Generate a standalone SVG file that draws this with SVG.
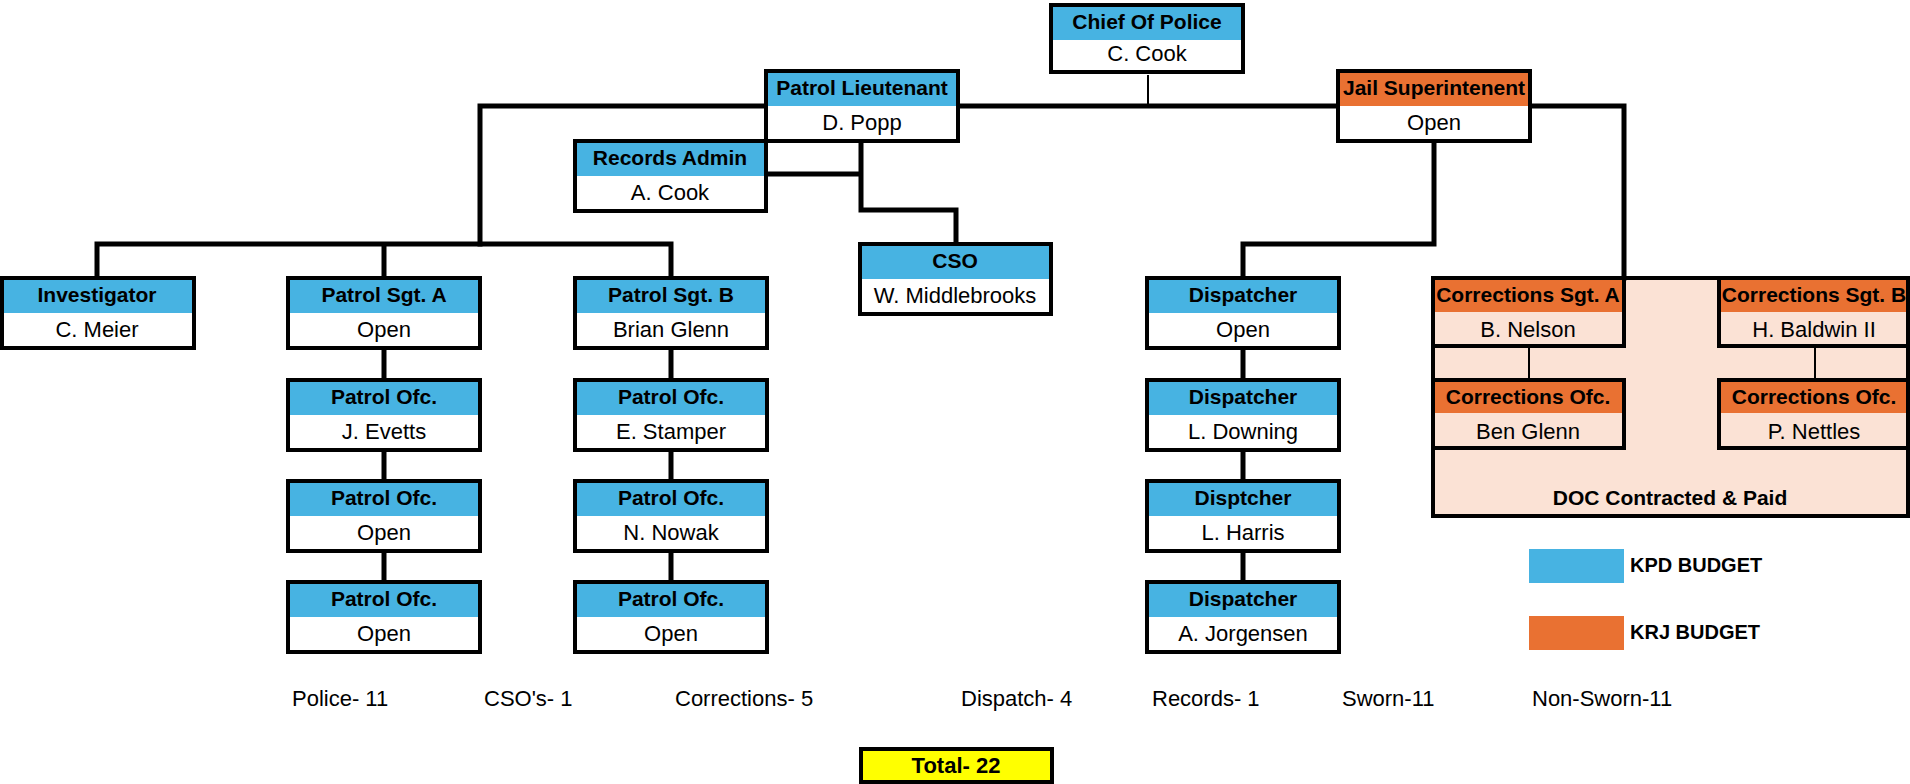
<svg xmlns="http://www.w3.org/2000/svg" width="1910" height="784" viewBox="0 0 1910 784">
<style>
.hb{fill:#47B3E2}
.ho{fill:#E97132}
.nw{fill:#FFFFFF}
.np{fill:#FBE2D5}
.fr{fill:none;stroke:#000;stroke-width:4}
.t{font-family:"Liberation Sans",Arial,sans-serif;text-anchor:middle;fill:#000}
.h{font-size:21px;font-weight:bold}
.n{font-size:22px}
.c{fill:none;stroke:#000;stroke-width:5;stroke-linejoin:miter;stroke-linecap:square}
.thin{fill:none;stroke:#000;stroke-width:2}
.lbl{font-family:"Liberation Sans",Arial,sans-serif;font-size:22px;fill:#000}
.leg{font-family:"Liberation Sans",Arial,sans-serif;font-size:20px;font-weight:bold;fill:#000}
</style>
<rect width="1910" height="784" fill="#FFFFFF"/>

<g id="doc-area">
<rect x="1433" y="278" width="475" height="238" fill="#FBE2D5" stroke="#000" stroke-width="4"/>
<text class="t h" x="1670" y="505">DOC Contracted &amp; Paid</text>
</g>

<g id="connectors">
<path class="c" d="M480 244 V106 H1624 V278"/>
<path class="thin" d="M1148 72 V106"/>
<path class="c" d="M97 278 V244 H671 V278 M384 244 V278"/>
<path class="c" d="M766 174 H861 M861 142 V210 H956 V244"/>
<path class="c" d="M1434 142 V244 H1243 V278"/>
<path class="c" d="M384 348 V380 M384 450 V481 M384 551 V582"/>
<path class="c" d="M671 348 V380 M671 450 V481 M671 551 V582"/>
<path class="c" d="M1243 348 V380 M1243 450 V481 M1243 551 V582"/>
<path class="thin" d="M1529 346 V380 M1815 346 V380"/>
</g>

<g id="chief">
<rect class="hb" x="1051" y="5" width="192" height="35"/><rect class="nw" x="1051" y="40" width="192" height="35"/><rect class="fr" x="1051" y="5" width="192" height="67"/>
<text class="t h" x="1147" y="29">Chief Of Police</text><text class="t n" x="1147" y="61">C. Cook</text>
</g>

<g id="patrol-lieutenant">
<rect class="hb" x="766" y="71" width="192" height="35"/><rect class="nw" x="766" y="106" width="192" height="35"/><rect class="fr" x="766" y="71" width="192" height="70"/>
<text class="t h" x="862" y="95">Patrol Lieutenant</text><text class="t n" x="862" y="130">D. Popp</text>
</g>

<g id="jail-superintendent">
<rect class="ho" x="1338" y="71" width="192" height="35"/><rect class="nw" x="1338" y="106" width="192" height="35"/><rect class="fr" x="1338" y="71" width="192" height="70"/>
<text class="t h" x="1434" y="95">Jail Superintenent</text><text class="t n" x="1434" y="130">Open</text>
</g>

<g id="records-admin">
<rect class="hb" x="575" y="141" width="191" height="35"/><rect class="nw" x="575" y="176" width="191" height="35"/><rect class="fr" x="575" y="141" width="191" height="70"/>
<text class="t h" x="670" y="165">Records Admin</text><text class="t n" x="670" y="200">A. Cook</text>
</g>

<g id="cso">
<rect class="hb" x="860" y="244" width="191" height="35"/><rect class="nw" x="860" y="279" width="191" height="35"/><rect class="fr" x="860" y="244" width="191" height="70"/>
<text class="t h" x="955" y="268">CSO</text><text class="t n" x="955" y="303">W. Middlebrooks</text>
</g>

<g id="investigator">
<rect class="hb" x="2" y="278" width="192" height="35"/><rect class="nw" x="2" y="313" width="192" height="35"/><rect class="fr" x="2" y="278" width="192" height="70"/>
<text class="t h" x="97" y="302">Investigator</text><text class="t n" x="97" y="337">C. Meier</text>
</g>

<g id="patrol-sgt-a">
<rect class="hb" x="288" y="278" width="192" height="35"/><rect class="nw" x="288" y="313" width="192" height="35"/><rect class="fr" x="288" y="278" width="192" height="70"/>
<text class="t h" x="384" y="302">Patrol Sgt. A</text><text class="t n" x="384" y="337">Open</text>
</g>

<g id="patrol-ofc-a1">
<rect class="hb" x="288" y="380" width="192" height="35"/><rect class="nw" x="288" y="415" width="192" height="35"/><rect class="fr" x="288" y="380" width="192" height="70"/>
<text class="t h" x="384" y="404">Patrol Ofc.</text><text class="t n" x="384" y="439">J. Evetts</text>
</g>

<g id="patrol-ofc-a2">
<rect class="hb" x="288" y="481" width="192" height="35"/><rect class="nw" x="288" y="516" width="192" height="35"/><rect class="fr" x="288" y="481" width="192" height="70"/>
<text class="t h" x="384" y="505">Patrol Ofc.</text><text class="t n" x="384" y="540">Open</text>
</g>

<g id="patrol-ofc-a3">
<rect class="hb" x="288" y="582" width="192" height="35"/><rect class="nw" x="288" y="617" width="192" height="35"/><rect class="fr" x="288" y="582" width="192" height="70"/>
<text class="t h" x="384" y="606">Patrol Ofc.</text><text class="t n" x="384" y="641">Open</text>
</g>

<g id="patrol-sgt-b">
<rect class="hb" x="575" y="278" width="192" height="35"/><rect class="nw" x="575" y="313" width="192" height="35"/><rect class="fr" x="575" y="278" width="192" height="70"/>
<text class="t h" x="671" y="302">Patrol Sgt. B</text><text class="t n" x="671" y="337">Brian Glenn</text>
</g>

<g id="patrol-ofc-b1">
<rect class="hb" x="575" y="380" width="192" height="35"/><rect class="nw" x="575" y="415" width="192" height="35"/><rect class="fr" x="575" y="380" width="192" height="70"/>
<text class="t h" x="671" y="404">Patrol Ofc.</text><text class="t n" x="671" y="439">E. Stamper</text>
</g>

<g id="patrol-ofc-b2">
<rect class="hb" x="575" y="481" width="192" height="35"/><rect class="nw" x="575" y="516" width="192" height="35"/><rect class="fr" x="575" y="481" width="192" height="70"/>
<text class="t h" x="671" y="505">Patrol Ofc.</text><text class="t n" x="671" y="540">N. Nowak</text>
</g>

<g id="patrol-ofc-b3">
<rect class="hb" x="575" y="582" width="192" height="35"/><rect class="nw" x="575" y="617" width="192" height="35"/><rect class="fr" x="575" y="582" width="192" height="70"/>
<text class="t h" x="671" y="606">Patrol Ofc.</text><text class="t n" x="671" y="641">Open</text>
</g>

<g id="dispatcher-1">
<rect class="hb" x="1147" y="278" width="192" height="35"/><rect class="nw" x="1147" y="313" width="192" height="35"/><rect class="fr" x="1147" y="278" width="192" height="70"/>
<text class="t h" x="1243" y="302">Dispatcher</text><text class="t n" x="1243" y="337">Open</text>
</g>

<g id="dispatcher-2">
<rect class="hb" x="1147" y="380" width="192" height="35"/><rect class="nw" x="1147" y="415" width="192" height="35"/><rect class="fr" x="1147" y="380" width="192" height="70"/>
<text class="t h" x="1243" y="404">Dispatcher</text><text class="t n" x="1243" y="439">L. Downing</text>
</g>

<g id="dispatcher-3">
<rect class="hb" x="1147" y="481" width="192" height="35"/><rect class="nw" x="1147" y="516" width="192" height="35"/><rect class="fr" x="1147" y="481" width="192" height="70"/>
<text class="t h" x="1243" y="505">Disptcher</text><text class="t n" x="1243" y="540">L. Harris</text>
</g>

<g id="dispatcher-4">
<rect class="hb" x="1147" y="582" width="192" height="35"/><rect class="nw" x="1147" y="617" width="192" height="35"/><rect class="fr" x="1147" y="582" width="192" height="70"/>
<text class="t h" x="1243" y="606">Dispatcher</text><text class="t n" x="1243" y="641">A. Jorgensen</text>
</g>

<g id="corrections-sgt-a">
<rect class="ho" x="1433" y="278" width="191" height="34"/><rect class="np" x="1433" y="312" width="191" height="34"/><rect class="fr" x="1433" y="278" width="191" height="68"/>
<text class="t h" x="1528" y="302">Corrections Sgt. A</text><text class="t n" x="1528" y="337">B. Nelson</text>
</g>

<g id="corrections-sgt-b">
<rect class="ho" x="1719" y="278" width="189" height="34"/><rect class="np" x="1719" y="312" width="189" height="34"/><rect class="fr" x="1719" y="278" width="189" height="68"/>
<text class="t h" x="1814" y="302">Corrections Sgt. B</text><text class="t n" x="1814" y="337">H. Baldwin II</text>
</g>

<g id="corrections-ofc-a">
<rect class="ho" x="1433" y="380" width="191" height="33"/><rect class="np" x="1433" y="413" width="191" height="35"/><rect class="fr" x="1433" y="380" width="191" height="68"/>
<text class="t h" x="1528" y="404">Corrections Ofc.</text><text class="t n" x="1528" y="439">Ben Glenn</text>
</g>

<g id="corrections-ofc-b">
<rect class="ho" x="1719" y="380" width="189" height="33"/><rect class="np" x="1719" y="413" width="189" height="35"/><rect class="fr" x="1719" y="380" width="189" height="68"/>
<text class="t h" x="1814" y="404">Corrections Ofc.</text><text class="t n" x="1814" y="439">P. Nettles</text>
</g>

<g id="legend">
<rect x="1529" y="549" width="95" height="34" fill="#47B3E2"/>
<text class="leg" x="1630" y="572">KPD BUDGET</text>
<rect x="1529" y="616" width="95" height="34" fill="#E97132"/>
<text class="leg" x="1630" y="639">KRJ BUDGET</text>
</g>

<g id="totals">
<text class="lbl" x="292" y="706">Police- 11</text>
<text class="lbl" x="484" y="706">CSO's- 1</text>
<text class="lbl" x="675" y="706">Corrections- 5</text>
<text class="lbl" x="961" y="706">Dispatch- 4</text>
<text class="lbl" x="1152" y="706">Records- 1</text>
<text class="lbl" x="1342" y="706">Sworn-11</text>
<text class="lbl" x="1532" y="706">Non-Sworn-11</text>
</g>

<g id="total">
<rect x="861" y="749" width="191" height="33" fill="#FFFF00" stroke="#000" stroke-width="4"/>
<text class="t h" x="956" y="773" style="font-size:22px">Total- 22</text>
</g>
</svg>
